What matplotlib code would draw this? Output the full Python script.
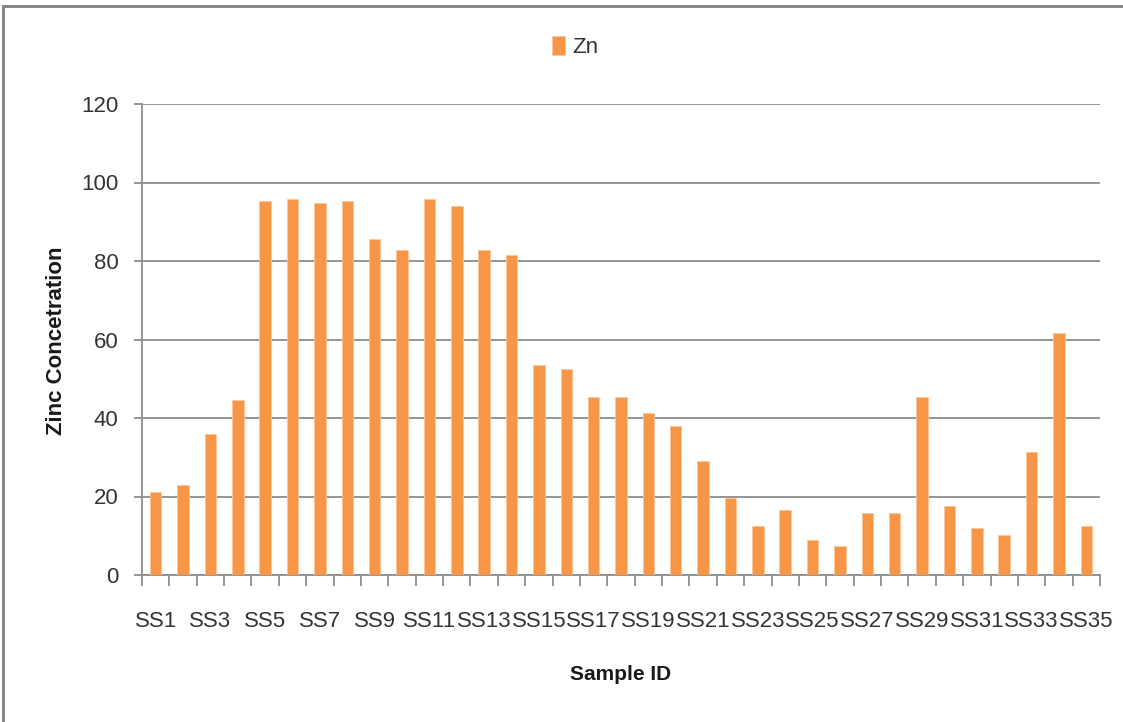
import numpy as np
import matplotlib
matplotlib.use('Agg')
import matplotlib.pyplot as plt
from matplotlib.patches import Rectangle

# Zinc concentration per soil sample
samples = ['SS%d' % i for i in range(1, 36)]
zinc = [21.2, 22.9, 35.9, 44.7, 95.3, 95.9, 94.9, 95.3, 85.7, 82.9,
        95.9, 94.0, 82.9, 81.6, 53.6, 52.6, 45.4, 45.4, 41.3, 37.9,
        29.0, 19.7, 12.6, 16.5, 8.9, 7.5, 15.7, 15.7, 45.3, 17.7,
        11.9, 10.3, 31.4, 61.7, 12.6]
y_ticks = [0, 20, 40, 60, 80, 100, 120]

bar_color = '#F79646'
grid_color = '#8c8c8c'
text_color = '#333333'
plt.rcParams['font.family'] = ['Liberation Sans', 'DejaVu Sans']

fig = plt.figure(figsize=(11.23, 7.22), dpi=100)
# outer chart frame
fig.patches.append(Rectangle((3 / 1123, -0.1), 1.2, 1 - 6 / 722 + 0.1,
                             transform=fig.transFigure, fill=False,
                             edgecolor='#7f7f7f', linewidth=2))

ax = fig.add_axes([142 / 1123, 147 / 722, 958 / 1123, 471 / 722])
x = np.arange(len(samples))
ax.bar(x, zinc, width=0.42, color=bar_color, edgecolor='#fbc79c',
       linewidth=0.6, zorder=3, label='Zn')

ax.set_xlim(-0.5, len(samples) - 0.5)
ax.set_ylim(0, 120)
ax.set_yticks(y_ticks)
ax.yaxis.grid(True, color=grid_color, linewidth=1.3, zorder=0)

# ticks at category boundaries, labels on every other sample
ax.set_xticks(np.arange(-0.5, len(samples)), labels=[])
ax.set_xticks(x[::2], labels=samples[::2], minor=True)
ax.tick_params(axis='x', which='major', length=8, width=1.3,
               color=grid_color, direction='out')
ax.tick_params(axis='x', which='minor', length=0, pad=26, labelsize=16,
               labelcolor=text_color)
ax.tick_params(axis='y', length=6, width=1.3, color=grid_color, pad=11,
               labelsize=16, labelcolor=text_color)

for side in ['top', 'right']:
    ax.spines[side].set_visible(False)
for side in ['left', 'bottom']:
    ax.spines[side].set_color(grid_color)
    ax.spines[side].set_linewidth(1.3)

ax.set_ylabel('Zinc Concetration', fontsize=16, fontweight='bold',
              color='#1a1a1a')
ax.set_xlabel('Sample ID', fontsize=15, fontweight='bold', color='#1a1a1a')
ax.yaxis.set_label_coords(-0.078, 0.497)
ax.xaxis.set_label_coords(0.5, -0.191)

ax.legend(loc='center', bbox_to_anchor=(575 / 1123, 1 - 47 / 722),
          bbox_transform=fig.transFigure, frameon=False, fontsize=16,
          handlelength=0.6, handleheight=0.9, handletextpad=0.3,
          labelcolor=text_color)

fig.savefig('out.png', dpi=100)
